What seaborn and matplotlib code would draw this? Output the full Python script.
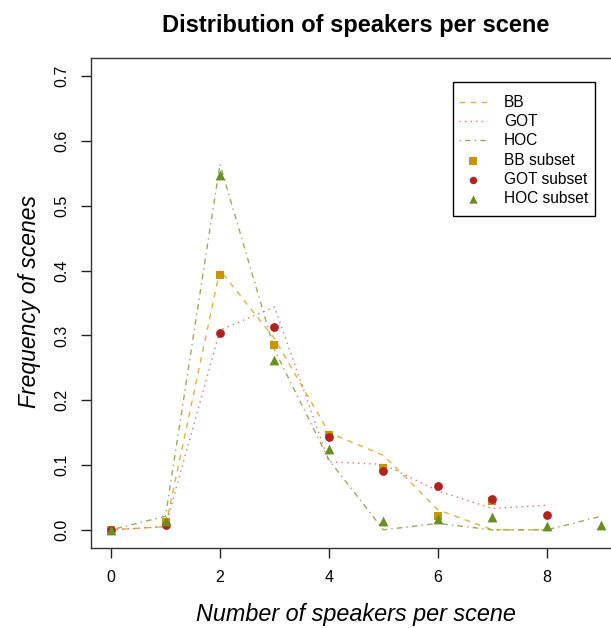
import numpy as np
import pandas as pd
import matplotlib
matplotlib.use("Agg")
import matplotlib.pyplot as plt
from matplotlib.patches import Rectangle
import seaborn as sns

# Full-data distributions (lines)
bb_x = [0, 1, 2, 3, 4, 5, 6, 7, 8]
bb_y = [0.0, 0.005, 0.401, 0.295, 0.150, 0.115, 0.031, 0.0, 0.0]
got_x = [0, 1, 2, 3, 4, 5, 6, 7, 8]
got_y = [0.0, 0.005, 0.308, 0.344, 0.105, 0.101, 0.060, 0.033, 0.038]
hoc_x = [0, 1, 2, 3, 4, 5, 6, 7, 8, 9]
hoc_y = [0.0, 0.021, 0.564, 0.278, 0.108, 0.0, 0.010, 0.0, 0.0, 0.021]

# Subset distributions (points)
bb_sub_x = [0, 1, 2, 3, 4, 5, 6, 7]
bb_sub_y = [0.0, 0.012, 0.393, 0.285, 0.147, 0.095, 0.021, 0.045]
got_sub_x = [0, 1, 2, 3, 4, 5, 6, 7, 8]
got_sub_y = [0.0, 0.008, 0.303, 0.313, 0.144, 0.091, 0.067, 0.047, 0.023]
hoc_sub_x = [0, 1, 2, 3, 4, 5, 6, 7, 8, 9]
hoc_sub_y = [0.0, 0.013, 0.547, 0.262, 0.124, 0.014, 0.016, 0.020, 0.006, 0.007]

sns.set_style("white")
plt.rcParams['font.family'] = ['Liberation Sans', 'DejaVu Sans']
plt.rcParams['text.color'] = 'black'
plt.rcParams['xtick.color'] = 'black'
plt.rcParams['ytick.color'] = 'black'

fig = plt.figure(figsize=(6.11, 6.28), dpi=100)
ax = fig.add_axes([91.4 / 611, 80 / 628, (621 - 91.4) / 611, (548 - 58) / 628])

bb_col, got_col, hoc_col = "#C8940A", "#B22222", "#6B8E23"
bb_line, got_line, hoc_line = "#DDA520", "#E05A5A", "#7FA040"

sns.lineplot(x=bb_x, y=bb_y, ax=ax, color=bb_line, lw=1.0, label="BB",
             linestyle=(0, (4, 4)), alpha=0.85)
sns.lineplot(x=got_x, y=got_y, ax=ax, color=got_line, lw=1.0, label="GOT",
             linestyle=(0, (1, 3)), alpha=0.85)
sns.lineplot(x=hoc_x, y=hoc_y, ax=ax, color=hoc_line, lw=1.0, label="HOC",
             linestyle=(0, (1, 3, 4, 3)), alpha=0.85)

sns.scatterplot(x=bb_sub_x, y=bb_sub_y, ax=ax, color=bb_col, marker="s", s=40,
                linewidth=0, label="BB subset", zorder=3)
sns.scatterplot(x=got_sub_x, y=got_sub_y, ax=ax, color=got_col, marker="o", s=40,
                linewidth=0, label="GOT subset", zorder=3)
sns.scatterplot(x=hoc_sub_x, y=hoc_sub_y, ax=ax, color=hoc_col, marker="^", s=50,
                linewidth=0, label="HOC subset", zorder=3)

ax.set_xlim(-0.36, 9.36)
ax.set_ylim(-0.028, 0.728)
ax.set_xticks([0, 2, 4, 6, 8])
ax.set_yticks(np.arange(0, 0.71, 0.1))
ax.set_yticklabels([f"{v:.1f}" for v in np.arange(0, 0.71, 0.1)],
                   rotation=90, va="center")
ax.tick_params(axis="both", direction="out", length=7, width=1, color="#222222",
               labelsize=11.5, pad=9, bottom=True, left=True)
for sp in ax.spines.values():
    sp.set_color("#333333")
    sp.set_linewidth(1.0)
ax.set_xlabel("")
ax.set_ylabel("")

leg = ax.legend(loc="upper left", bbox_to_anchor=(459 / 611, (628 - 95) / 628),
                bbox_transform=fig.transFigure, frameon=False, fontsize=11.2,
                handlelength=1.8, labelspacing=0.27, borderpad=0,
                handletextpad=1.1, borderaxespad=0, markerscale=0.85)
fig.patches.append(Rectangle((453 / 611, (628 - 216) / 628), 142 / 611, 134 / 628,
                             transform=fig.transFigure, fill=False,
                             edgecolor="black", linewidth=1.0))

fig.text(356 / 611, (628 - 32) / 628, "Distribution of speakers per scene",
         ha="center", va="baseline", fontsize=17, fontweight="bold")
fig.text(356 / 611, 7 / 628, "Number of speakers per scene",
         ha="center", va="baseline", fontsize=16.8, style="italic")
fig.text(30 / 611, (628 - 302) / 628, "Frequency of scenes", rotation=90,
         ha="center", va="center", fontsize=16.5, style="italic")

fig.savefig("out.png", dpi=100)
